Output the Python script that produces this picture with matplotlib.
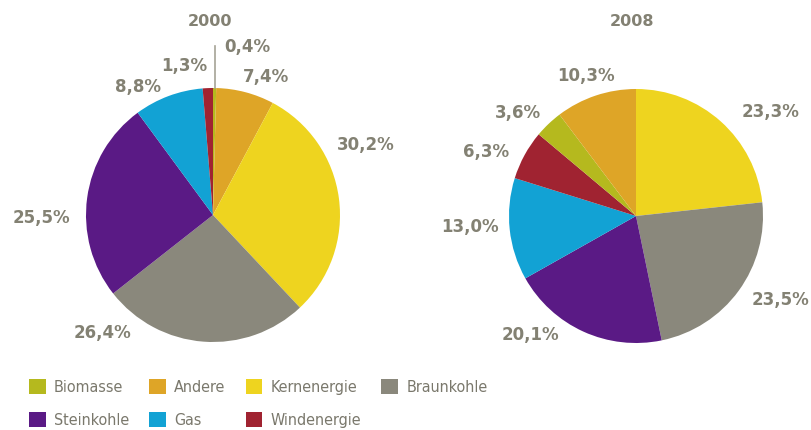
import numpy as np
import matplotlib
matplotlib.use("Agg")
import matplotlib.pyplot as plt
from matplotlib.patches import Patch

# Stromerzeugung nach Energieträgern (Anteile in %)
sources = ["Biomasse", "Andere", "Kernenergie", "Braunkohle",
           "Steinkohle", "Gas", "Windenergie"]
colors = {"Biomasse": "#b5b91e", "Andere": "#dea527", "Kernenergie": "#eed41f",
          "Braunkohle": "#8a887c", "Steinkohle": "#5a1a85", "Gas": "#12a2d4",
          "Windenergie": "#a02331"}

order_2000 = ["Biomasse", "Andere", "Kernenergie", "Braunkohle", "Steinkohle", "Gas", "Windenergie"]
share_2000 = [0.4, 7.4, 30.2, 26.4, 25.5, 8.8, 1.3]

order_2008 = ["Kernenergie", "Braunkohle", "Steinkohle", "Gas", "Windenergie", "Biomasse", "Andere"]
share_2008 = [23.3, 23.5, 20.1, 13.0, 6.3, 3.6, 10.3]

# label placement in units of the pie radius
pos_2000 = [(0.27, 1.32), (0.42, 1.09), (1.20, 0.55), (-0.87, -0.93),
            (-1.35, -0.02), (-0.59, 1.01), (-0.23, 1.17)]
pos_2008 = [(1.06, 0.82), (1.14, -0.66), (-0.83, -0.94), (-1.31, -0.09),
            (-1.18, 0.50), (-0.93, 0.81), (-0.39, 1.10)]

txt = "#838173"
W, H = 811, 430
fig = plt.figure(figsize=(W / 100, H / 100), dpi=100)


def draw(cx, cy, r, year, order, share, pos, tx, ty):
    ax = fig.add_axes([(cx - r) / W, (H - cy - r) / H, 2 * r / W, 2 * r / H])
    wedges, _ = ax.pie(share, colors=[colors[s] for s in order], startangle=90,
                       counterclock=False, radius=1, frame=False,
                       wedgeprops=dict(linewidth=0))
    ax.set_xlim(-1, 1)
    ax.set_ylim(-1, 1)
    ax.axis("off")
    for v, (x, y) in zip(share, pos):
        ax.text(x, y, f"{v:.1f}%".replace(".", ","), ha="center", va="center",
                fontsize=12, fontweight="bold", color=txt, clip_on=False)
    fig.text(tx / W, 1 - ty / H, year, ha="center", va="center",
             fontsize=11.5, fontweight="bold", color=txt)
    return ax, wedges


ax1, w1 = draw(213, 215, 127, "2000", order_2000, share_2000, pos_2000, 210, 21)
# leader line for the tiny Biomasse slice
mid = np.deg2rad((w1[0].theta1 + w1[0].theta2) / 2)
ax1.plot([np.cos(mid), np.cos(mid)], [1.0, 1.33], color="#a5a396", lw=1.2, clip_on=False)

draw(636, 216, 127, "2008", order_2008, share_2008, pos_2008, 632, 22)

leg_order = ["Biomasse", "Steinkohle", "Andere", "Gas", "Kernenergie", "Windenergie", "Braunkohle"]
handles = [Patch(facecolor=colors[s], edgecolor="none", label=s) for s in leg_order]
fig.legend(handles=handles, ncol=4, loc="upper left",
           bbox_to_anchor=(29 / W, 1 - 379 / H), frameon=False, borderpad=0,
           borderaxespad=0, handlelength=1.05, handleheight=1.05,
           handletextpad=0.52, columnspacing=1.25, labelspacing=1.1,
           prop={"family": "DejaVu Sans", "stretch": "condensed", "size": 11.5},
           labelcolor="#7a786c")

fig.savefig("out.png", dpi=100)
